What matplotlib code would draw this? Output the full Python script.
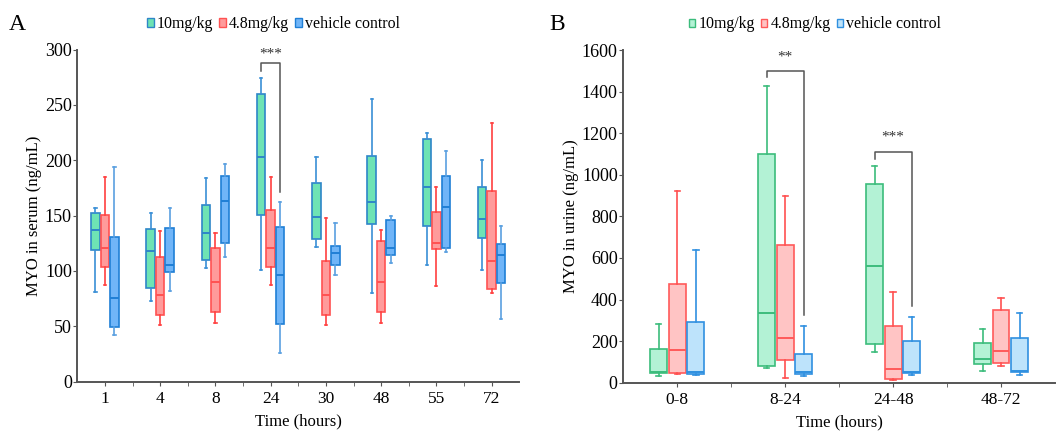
import numpy as np
import matplotlib.pyplot as plt
from matplotlib.patches import Patch

plt.rcParams['font.family'] = ['Liberation Serif', 'DejaVu Serif']

groups = ['10mg/kg', '4.8mg/kg', 'vehicle control']

# Panel A: MYO in serum, box stats (lo, q1, med, q3, hi)
serum_times = ['1', '4', '8', '24', '30', '48', '55', '72']
serum_10_lo = [81, 73, 103, 101, 122, 80, 105, 101]
serum_10_q1 = [119, 85, 110, 151, 129, 142, 141, 130]
serum_10_med = [137, 118, 134, 203, 149, 162, 176, 147]
serum_10_q3 = [152, 138, 160, 260, 179, 204, 219, 176]
serum_10_hi = [157, 152, 184, 274, 203, 255, 225, 200]

serum_48_lo = [87, 51, 53, 87, 51, 53, 86, 80]
serum_48_q1 = [104, 60, 63, 104, 60, 63, 120, 84]
serum_48_med = [121, 78, 90, 121, 78, 90, 125, 109]
serum_48_q3 = [151, 113, 121, 155, 109, 127, 153, 172]
serum_48_hi = [185, 136, 134, 185, 148, 137, 176, 234]

serum_vc_lo = [42, 82, 113, 26, 96, 107, 117, 57]
serum_vc_q1 = [49, 99, 125, 52, 105, 114, 121, 89]
serum_vc_med = [76, 105, 163, 96, 116, 121, 158, 114]
serum_vc_q3 = [131, 139, 186, 140, 123, 146, 186, 124]
serum_vc_hi = [194, 157, 197, 162, 143, 150, 208, 141]

# Panel B: MYO in urine
urine_times = ['0-8', '8-24', '24-48', '48-72']
urine_10_lo = [34, 71, 148, 58]
urine_10_q1 = [45, 79, 185, 88]
urine_10_med = [51, 336, 563, 116]
urine_10_q3 = [162, 1100, 957, 193]
urine_10_hi = [284, 1427, 1042, 260]

urine_48_lo = [40, 22, 14, 79]
urine_48_q1 = [47, 111, 19, 95]
urine_48_med = [157, 215, 64, 151]
urine_48_q3 = [477, 661, 273, 352]
urine_48_hi = [920, 900, 437, 409]

urine_vc_lo = [35, 34, 35, 37]
urine_vc_q1 = [40, 40, 46, 53]
urine_vc_med = [53, 53, 51, 55]
urine_vc_q3 = [294, 140, 202, 214]
urine_vc_hi = [637, 273, 316, 336]


def box_stats(lo, q1, med, q3, hi):
    return [dict(whislo=a, q1=b, med=c, q3=d, whishi=e, fliers=[])
            for a, b, c, d, e in zip(lo, q1, med, q3, hi)]


# face, edge, whisker colours for each group
colors_a = [('#6ee3b4', '#2e86c8', '#3a8fd6'),
            ('#ff9b9b', '#ff5252', '#ff4040'),
            ('#70b5f8', '#1f7fd6', '#5aa0e0')]
colors_b = [('#b3f2d5', '#3cbc7c', '#3cbc7c'),
            ('#ffc4c4', '#ff5a5a', '#ff5050'),
            ('#bde3fb', '#3090e0', '#3090e0')]


def draw_panel(ax, stats_list, colors, labels, capw):
    n = len(labels)
    offsets = [-0.172, 0, 0.172]
    for stats, off, (fc, ec, wc) in zip(stats_list, offsets, colors):
        ax.bxp(stats, positions=np.arange(n) + off, widths=0.155,
               patch_artist=True, showfliers=False, capwidths=capw,
               boxprops=dict(facecolor=fc, edgecolor=ec, linewidth=1.2),
               medianprops=dict(color=ec, linewidth=1.4),
               whiskerprops=dict(color=wc, linewidth=1.2),
               capprops=dict(color=wc, linewidth=1.2))
    ax.set_xlim(-0.5, n - 0.5)
    ax.set_xticks(np.arange(n))
    ax.set_xticklabels(labels)
    ax.set_xticks(np.arange(n - 1) + 0.5, minor=True)
    ax.tick_params(axis='x', which='both', length=3, color='#555555', labelsize=12.5, pad=4)
    ax.tick_params(axis='y', length=3, color='#555555', labelsize=13, pad=1)
    for s in ['top', 'right']:
        ax.spines[s].set_visible(False)
    for s in ['left', 'bottom']:
        ax.spines[s].set_color('#555555')
        ax.spines[s].set_linewidth(1.4)
    ax.set_xlabel('Time (hours)', fontsize=12, labelpad=4)
    handles = [Patch(facecolor=fc, edgecolor=ec, linewidth=1) for fc, ec, wc in colors]
    ax.legend(handles, groups, loc='center', bbox_to_anchor=(0.444, 1.077), ncol=3,
              frameon=False, fontsize=11.4, handlelength=0.4, handleheight=0.45,
              handletextpad=0.2, columnspacing=0.4, borderaxespad=0)


def bracket(ax, x1, x2, y1, y2, ytop, text, ytext):
    ax.plot([x1, x1, x2, x2], [y1, ytop, ytop, y2], color='#555555', lw=1.1, clip_on=False)
    ax.text((x1 + x2) / 2, ytext, text, ha='center', va='center', fontsize=11, color='#333333')


fig = plt.figure(figsize=(10.64, 4.32), dpi=100)
ax1 = fig.add_axes([0.0727, 0.1164, 0.4153, 0.769])
ax2 = fig.add_axes([0.5858, 0.1141, 0.4058, 0.770])

serum_stats = [box_stats(serum_10_lo, serum_10_q1, serum_10_med, serum_10_q3, serum_10_hi),
               box_stats(serum_48_lo, serum_48_q1, serum_48_med, serum_48_q3, serum_48_hi),
               box_stats(serum_vc_lo, serum_vc_q1, serum_vc_med, serum_vc_q3, serum_vc_hi)]
draw_panel(ax1, serum_stats, colors_a, serum_times, 0.04)
ax1.set_ylim(0, 300)
ax1.set_yticks(np.arange(0, 301, 50))
ax1.set_ylabel('MYO in serum (ng/mL)', fontsize=12, labelpad=2)
bracket(ax1, 3 - 0.172, 3 + 0.172, 281, 171, 288, '***', 296)

urine_stats = [box_stats(urine_10_lo, urine_10_q1, urine_10_med, urine_10_q3, urine_10_hi),
               box_stats(urine_48_lo, urine_48_q1, urine_48_med, urine_48_q3, urine_48_hi),
               box_stats(urine_vc_lo, urine_vc_q1, urine_vc_med, urine_vc_q3, urine_vc_hi)]
draw_panel(ax2, urine_stats, colors_b, urine_times, 0.05)
ax2.set_ylim(0, 1600)
ax2.set_yticks(np.arange(0, 1601, 200))
ax2.set_ylabel('MYO in urine (ng/mL)', fontsize=12, labelpad=2)
bracket(ax2, 1 - 0.172, 1 + 0.172, 1469, 327, 1497, '**', 1568)
bracket(ax2, 2 - 0.172, 2 + 0.172, 1075, 369, 1112, '***', 1180)

fig.text(0.008, 0.944, 'A', fontsize=17, va='center')
fig.text(0.516, 0.944, 'B', fontsize=17, va='center')

fig.savefig('out.png', dpi=100)
